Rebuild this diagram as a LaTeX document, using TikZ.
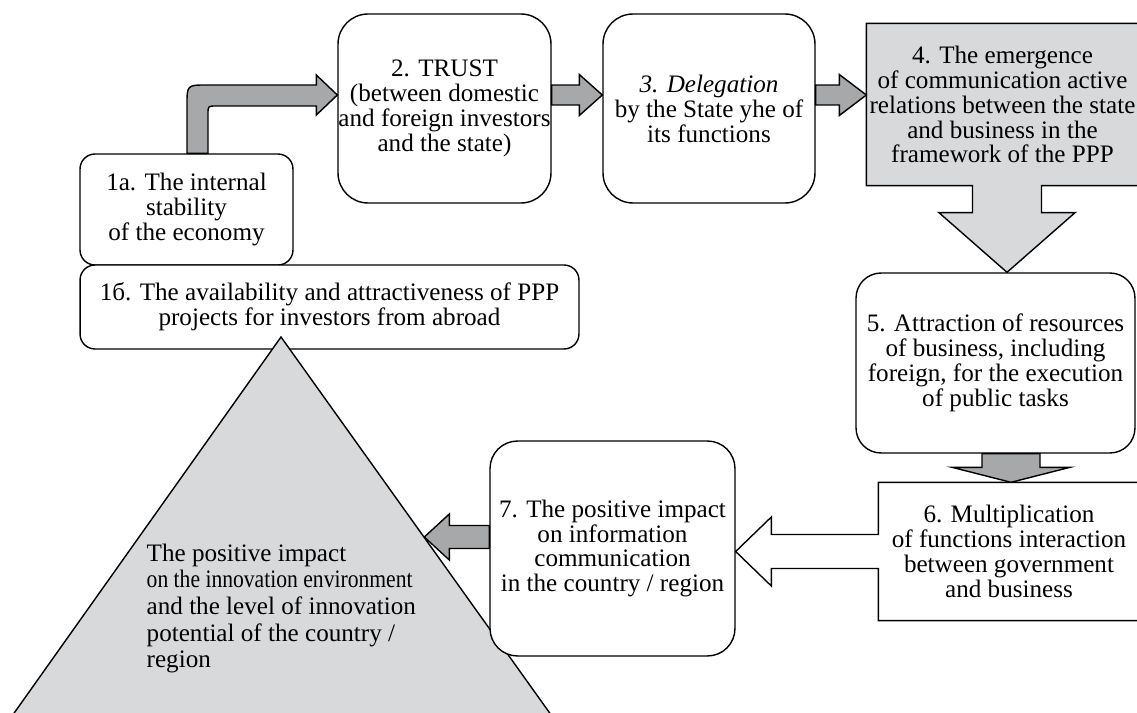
\documentclass[tikz,border=0pt]{standalone}
\usepackage{fontspec}
\setmainfont{Liberation Serif}
\usetikzlibrary{calc,backgrounds}
\definecolor{ArrowGray}{HTML}{A7A8AA}
\definecolor{PanelGray}{HTML}{D8D9DB}
% straight block arrow: [fill] tail, tip, shaft half width, head half width, head length
\newcommand{\blockarrow}[6][ArrowGray]{%
  \coordinate (ah) at ($(#3)!#6!(#2)$);
  \draw[blockarr,fill=#1] ($(#2)!#4!90:(#3)$) -- ($(ah)!#4!-90:(#2)$) -- ($(ah)!#5!-90:(#2)$)
    -- (#3) -- ($(ah)!#5!90:(#2)$) -- ($(ah)!#4!90:(#2)$) -- ($(#2)!#4!-90:(#3)$) -- cycle;
}

\begin{document}
\begin{tikzpicture}[x=0.02cm,y=-0.02cm,line width=0.8pt,
  every node/.style={font=\fontsize{14.3}{14.2}\selectfont,inner sep=0pt,align=center},
  rbox/.style={draw,fill=white,rounded corners=#1},
  rbox/.default=0.3cm,
  blockarr/.style={draw,line join=miter},
  panel/.style={draw,fill=PanelGray,line width=0.8pt}]
  \useasboundingbox (0,0) rectangle (1137,713);

  % boxes
  \node[rbox,minimum width=4.26cm,minimum height=2.22cm] (b1a) at (186.5,209.5)
    {1a. The internal\\stability\\of the economy};
  \node[rbox,minimum width=9.98cm,minimum height=1.68cm] (b1b) at (329.5,307)
    {1б. The availability and attractiveness of PPP\\projects for investors from abroad};
  \node[rbox=0.6cm,minimum width=4.26cm,minimum height=3.78cm] (b2) at (444.5,108.5)
    {2. TRUST\\(between domestic\\and foreign investors\\and the state)};
  \node[rbox=0.6cm,minimum width=4.24cm,minimum height=3.78cm] (b3) at (709,108.5)
    {\textit{3. Delegation}\\by the State yhe of\\its functions};
  \node[minimum width=5.42cm,minimum height=3.22cm] (b4) at (1002.5,104.5)
    {4. The emergence\\of communication active\\relations between the state\\and business in the\\framework of the PPP};
  \node[rbox=0.5cm,minimum width=5.58cm,minimum height=3.6cm] (b5) at (995.5,363)
    {5. Attraction of resources\\of business, including\\foreign, for the execution\\of public tasks};
  \node[minimum width=5.2cm,minimum height=2.74cm] (b6) at (1009,551.5)
    {6. Multiplication\\of functions interaction\\between government\\and business};

  % pyramid
  \begin{scope}
    \clip (0,0) rectangle (1137,713);
    \draw[panel] (281,337) coordinate (apex) -- (569,740) -- (-5,740) -- cycle;
  \end{scope}
  \node[anchor=west,align=left,font=\fontsize{14.3}{15.2}\selectfont] (tri) at (146,608.5)
    {The positive impact\\\scalebox{0.86}[1]{on the innovation environment}\\and the level of innovation\\potential of the country /\\region};

  \node[rbox=0.55cm,minimum width=4.9cm,minimum height=4.3cm] (b7) at (612.5,548.5)
    {7. The positive impact\\on information\\communication\\in the country / region};

  % callout outlines
  \coordinate (ax4) at ($(b4.south)+(4.5,0)$);
  \coordinate (ax6) at (b6.west);
  \begin{scope}[on background layer]
    \draw[panel] (b4.south west) -- (b4.north west) -- (b4.north east) -- (b4.south east)
      -- ($(ax4)+(34.5,0)$) -- ($(ax4)+(34.5,27)$) -- ($(ax4)+(68,27)$) -- (b5.north -| ax4)
      -- ($(ax4)+(-68,27)$) -- ($(ax4)+(-34.5,27)$) -- ($(ax4)+(-34.5,0)$) -- cycle;
    \draw[fill=white,line width=0.8pt] (b6.north east) -- (b6.north west) -- ($(ax6)+(0,-17)$)
      -- ($(ax6)+(-107,-17)$) -- ($(ax6)+(-107,-34.5)$) -- (b7.east |- ax6)
      -- ($(ax6)+(-107,34.5)$) -- ($(ax6)+(-107,17)$) -- ($(ax6)+(0,17)$)
      -- (b6.south west) -- (b6.south east) -- cycle;
  \end{scope}

  % arrows
  \coordinate (row) at (0,95);
  \coordinate (s1) at ($(b1a.north)+(11,0)$);
  \coordinate (t1) at (b2.west |- row);
  \draw[blockarr,fill=ArrowGray] ($(s1)+(-10.5,0)$) -- ($(s1|-t1)+(-10.5,10)$)
    .. controls ($(s1|-t1)+(-10.5,-10)$) .. ($(s1|-t1)+(9.5,-10)$) -- ($(t1)+(-21,-10)$)
    -- ($(t1)+(-21,-20)$) -- (t1) -- ($(t1)+(-21,20)$) -- ($(t1)+(-21,11)$)
    -- ($(s1|-t1)+(18.5,11)$) .. controls ($(s1|-t1)+(10.5,11)$) .. ($(s1|-t1)+(10.5,19)$)
    -- ($(s1)+(10.5,0)$) -- cycle;

  \coordinate (s2) at (b2.east |- row);
  \coordinate (t2) at (b3.west |- row);
  \blockarrow{s2}{t2}{0.2cm}{0.41cm}{0.46cm}
  \coordinate (s3) at (b3.east |- row);
  \coordinate (t3) at (b4.west |- row);
  \blockarrow{s3}{t3}{0.2cm}{0.41cm}{0.54cm}
  \coordinate (s5) at ($(b5.south)+(15.5,0)$);
  \coordinate (t5) at (b6.north -| s5);
  \blockarrow{s5}{t5}{0.58cm}{1.18cm}{0.3cm}
  \coordinate (s7) at ($(b7.west)+(0,-11.5)$);
  \coordinate (t7) at ($(b7.west)+(-65,-11.5)$);
  \blockarrow{s7}{t7}{0.23cm}{0.46cm}{0.5cm}
\end{tikzpicture}
\end{document}
